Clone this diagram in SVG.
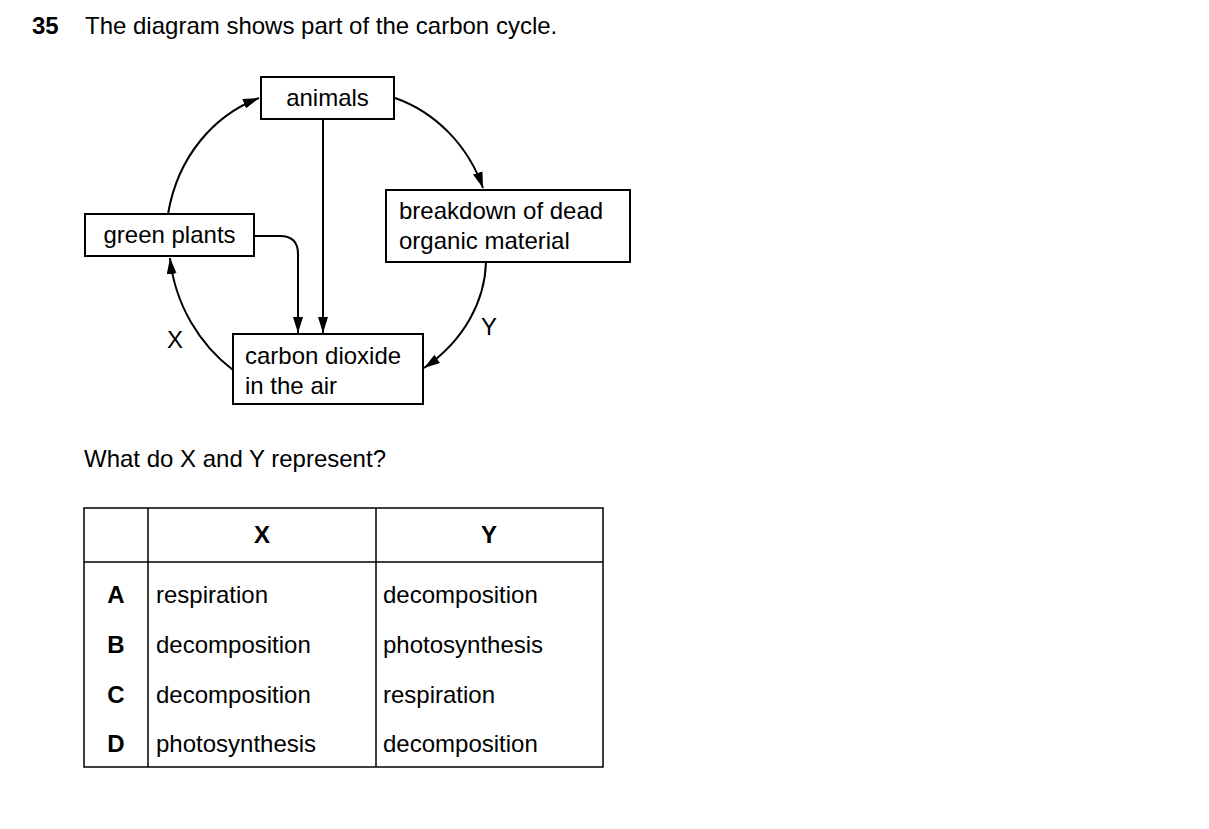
<svg xmlns="http://www.w3.org/2000/svg" width="1209" height="829" viewBox="0 0 1209 829">
<style>
text{font-family:"Liberation Sans",Arial,sans-serif;font-size:24px;fill:#000}
.b{font-weight:bold}
.box{fill:#fff;stroke:#000;stroke-width:2}
.c{fill:none;stroke:#000;stroke-width:2}
</style>
<defs>
<marker id="a" viewBox="0 0 16 10" refX="16" refY="5" markerWidth="16" markerHeight="10" markerUnits="userSpaceOnUse" orient="auto"><path d="M0,0L16,5L0,10z"/></marker></defs>
<rect width="1209" height="829" fill="#fff"/>
<text x="32" y="34" class="b">35</text>
<text x="85" y="34">The diagram shows part of the carbon cycle.</text>
<g id="connectors">
<path class="c" d="M168,214 C178,155 215,115 259,98" marker-end="url(#a)"/>
<path class="c" d="M395,98 C435,112 468,145 483,188" marker-end="url(#a)"/>
<path class="c" d="M486,262 C485,300 465,340 424,368" marker-end="url(#a)"/>
<path class="c" d="M233,370 C200,345 175,305 170,258" marker-end="url(#a)"/>
<path class="c" d="M323,119 L323,333" marker-end="url(#a)"/>
<path class="c" d="M254,236 L280,236 Q298,236 298,254 L298,333" marker-end="url(#a)"/>
</g>
<g id="animals"><rect class="box" x="261" y="77" width="133" height="42"/><text x="327.5" y="106" text-anchor="middle">animals</text></g>
<g id="green-plants"><rect class="box" x="85" y="214" width="169" height="42"/><text x="169.5" y="243" text-anchor="middle">green plants</text></g>
<g id="breakdown"><rect class="box" x="386" y="190" width="244" height="72"/><text x="399" y="219">breakdown of dead</text><text x="399" y="249">organic material</text></g>
<g id="co2"><rect class="box" x="233" y="334" width="190" height="70"/><text x="245" y="364">carbon dioxide</text><text x="245" y="394">in the air</text></g>
<text x="175" y="348" text-anchor="middle">X</text>
<text x="489" y="335" text-anchor="middle">Y</text>
<text x="84" y="467">What do X and Y represent?</text>
<g id="table" fill="none" stroke="#000" stroke-width="1.5">
<rect x="84" y="508" width="519" height="259" fill="none"/>
<line x1="148" y1="508" x2="148" y2="767"/><line x1="376" y1="508" x2="376" y2="767"/><line x1="84" y1="562" x2="603" y2="562"/>
</g>
<text x="262" y="543" class="b" text-anchor="middle">X</text>
<text x="489" y="543" class="b" text-anchor="middle">Y</text>
<text x="116" y="603" class="b" text-anchor="middle">A</text><text x="116" y="653" class="b" text-anchor="middle">B</text><text x="116" y="703" class="b" text-anchor="middle">C</text><text x="116" y="752" class="b" text-anchor="middle">D</text>
<text x="156" y="603">respiration</text><text x="383" y="603">decomposition</text>
<text x="156" y="653">decomposition</text><text x="383" y="653">photosynthesis</text>
<text x="156" y="703">decomposition</text><text x="383" y="703">respiration</text>
<text x="156" y="752">photosynthesis</text><text x="383" y="752">decomposition</text>
</svg>
